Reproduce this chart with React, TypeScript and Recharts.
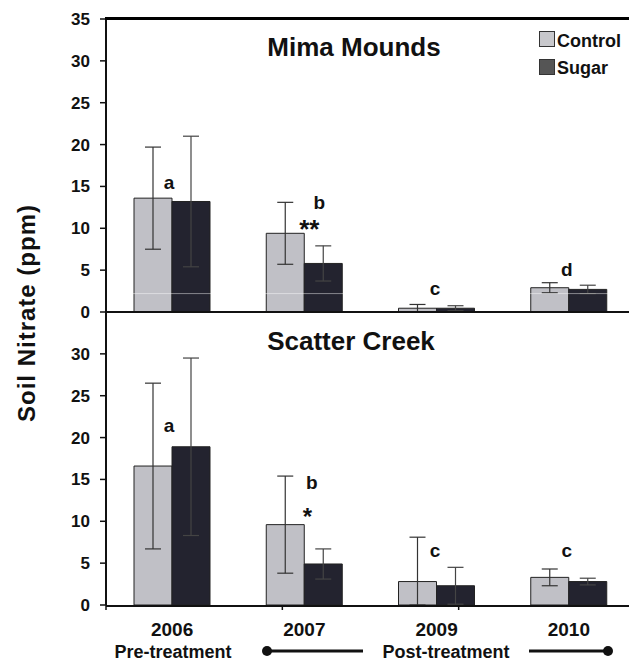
import React from 'react';
import {
  ComposedChart,
  Bar,
  XAxis,
  YAxis,
  ErrorBar,
  ReferenceLine,
  ReferenceDot,
  Legend,
} from 'recharts';

// ---------- data ----------
const years = ['2006', '2007', '2009', '2010'];

const mimaControl = [13.6, 9.4, 0.45, 2.9];
const mimaControlErr = [6.1, 3.7, 0.45, 0.6];
const mimaSugar = [13.2, 5.8, 0.45, 2.7];
const mimaSugarErr = [7.8, 2.1, 0.3, 0.5];

const scatterControl = [16.6, 9.6, 2.8, 3.3];
const scatterControlErr: (number | [number, number])[] = [9.9, 5.8, [2.8, 5.3], 1.0];
const scatterSugar = [18.9, 4.9, 2.3, 2.8];
const scatterSugarErr = [10.6, 1.8, 2.2, 0.4];

const topTicks = [0, 5, 10, 15, 20, 25, 30, 35];
const bottomTicks = [0, 5, 10, 15, 20, 25, 30];
const boundaryTicks = [0, 1, 2, 3, 4];

const seriesNames = ['Control', 'Sugar'];

const mimaLetters = [
  { year: '2006', y: 14.75, text: 'a' },
  { year: '2007', y: 12.35, text: 'b' },
  { year: '2007', y: 8.8, text: '**' },
  { year: '2009', y: 2.0, text: 'c' },
  { year: '2010', y: 4.27, text: 'd' },
];
const scatterLetters = [
  { year: '2006', y: 20.7, text: 'a' },
  { year: '2007', y: 13.8, text: 'b' },
  { year: '2007', y: 9.55, text: '*' },
  { year: '2009', y: 5.7, text: 'c' },
  { year: '2010', y: 5.7, text: 'c' },
];

// ---------- styles ----------
const FONT = '"Liberation Sans", Arial, Helvetica, sans-serif';
const INK = '#111';
const CONTROL_FILL = '#c0c0c6';
const SUGAR_FILL = '#23232f';
const LEGEND_FILL: Record<string, string> = { Control: '#c8c8cc', Sugar: '#555555' };
const mimaLetterStyle = [
  { dx: -3, fs: 19 },
  { dx: 15, fs: 19 },
  { dx: 5, fs: 26 },
  { dx: -1.5, fs: 19 },
  { dx: -2, fs: 19 },
];
const scatterLetterStyle = [
  { dx: -3, fs: 19 },
  { dx: 7.5, fs: 19 },
  { dx: 3, fs: 24 },
  { dx: -1.5, fs: 19 },
  { dx: -2, fs: 19 },
];

const mimaData = years.map((year, i) => ({
  year,
  control: mimaControl[i],
  controlErr: mimaControlErr[i],
  sugar: mimaSugar[i],
  sugarErr: mimaSugarErr[i],
}));

const scatterData = years.map((year, i) => ({
  year,
  control: scatterControl[i],
  controlErr: scatterControlErr[i],
  sugar: scatterSugar[i],
  sugarErr: scatterSugarErr[i],
}));

const letterShape = (text: string, dx: number, fs: number) => (props: any) => (
  <text
    x={props.cx + dx}
    y={props.cy}
    textAnchor="middle"
    fontSize={fs}
    fontWeight={700}
    fill={INK}
    fontFamily={FONT}
  >
    {text}
  </text>
);

const emptyTick = () => <g />;

const yTick = { fill: INK, fontSize: 17, fontWeight: 700, fontFamily: FONT };

const renderLegend = () => (
  <svg width={90} height={50} style={{ display: 'block' }}>
    {seriesNames.map((name, i) => (
      <g key={name}>
        <rect
          x={0.5}
          y={0.5 + i * 28}
          width={15}
          height={15}
          fill={LEGEND_FILL[name]}
          stroke="#333"
          strokeWidth={1}
        />
        <text
          x={18}
          y={16 + i * 27}
          fontSize={18}
          fontWeight={700}
          fill={INK}
          fontFamily={FONT}
        >
          {name}
        </text>
      </g>
    ))}
  </svg>
);

const bars = () => [
  <Bar
    key="c"
    xAxisId="cat"
    dataKey="control"
    name="Control"
    fill={CONTROL_FILL}
    stroke="#222"
    strokeWidth={1}
    isAnimationActive={false}
  >
    <ErrorBar dataKey="controlErr" width={8} stroke="#333" strokeWidth={1.2} direction="y" />
  </Bar>,
  <Bar
    key="s"
    xAxisId="cat"
    dataKey="sugar"
    name="Sugar"
    fill={SUGAR_FILL}
    stroke="#222"
    strokeWidth={1}
    isAnimationActive={false}
  >
    <ErrorBar dataKey="sugarErr" width={8} stroke="#444" strokeWidth={1.2} direction="y" />
  </Bar>,
];

export default function App() {
  return (
    <div
      style={{
        position: 'absolute',
        left: 0,
        top: 0,
        width: 629,
        height: 661,
        overflow: 'hidden',
        background: '#fff',
      }}
    >
      {/* Bottom panel: Scatter Creek */}
      <div style={{ position: 'absolute', left: 0, top: 300 }}>
        <ComposedChart
          width={640}
          height={361}
          data={scatterData}
          margin={{ top: 12, right: 5, bottom: 54, left: 0 }}
          barGap={0}
          barCategoryGap={28}
        >
          <XAxis
            xAxisId="cat"
            dataKey="year"
            type="category"
            height={1}
            interval={0}
            tickLine={false}
            tickSize={6}
            tickMargin={10.5}
            axisLine={{ stroke: INK, strokeWidth: 2 }}
            tick={{ fill: INK, fontSize: 19, fontWeight: 700, fontFamily: FONT }}
          />
          <XAxis
            xAxisId="bounds"
            type="number"
            domain={[0, 4]}
            ticks={boundaryTicks}
            interval={0}
            allowDataOverflow
            height={1}
            axisLine={false}
            tick={emptyTick}
            tickSize={5}
            tickLine={{ stroke: INK, strokeWidth: 1.5 }}
          />
          <YAxis
            type="number"
            width={106}
            domain={[0, 35]}
            ticks={bottomTicks}
            interval={0}
            tickSize={6}
            tickMargin={10}
            axisLine={{ stroke: INK, strokeWidth: 2 }}
            tickLine={{ stroke: INK, strokeWidth: 1.5 }}
            tick={yTick}
          />
          {bars()}
          {scatterLetters.map((l, i) => (
            <ReferenceDot
              key={'s' + i}
              xAxisId="cat"
              x={l.year}
              y={l.y}
              r={0}
              ifOverflow="visible"
              shape={letterShape(l.text, scatterLetterStyle[i].dx, scatterLetterStyle[i].fs)}
            />
          ))}
        </ComposedChart>
      </div>

      {/* Top panel: Mima Mounds */}
      <div style={{ position: 'absolute', left: 0, top: 0 }}>
        <ComposedChart
          width={640}
          height={330}
          data={mimaData}
          margin={{ top: 19, right: 5, bottom: 17, left: 0 }}
          barGap={0}
          barCategoryGap={28}
        >
          <XAxis
            xAxisId="cat"
            dataKey="year"
            type="category"
            height={1}
            tick={false}
            tickLine={false}
            axisLine={{ stroke: INK, strokeWidth: 2 }}
          />
          <YAxis
            type="number"
            width={106}
            domain={[0, 35]}
            ticks={topTicks}
            interval={0}
            tickSize={6}
            tickMargin={10}
            axisLine={{ stroke: INK, strokeWidth: 2 }}
            tickLine={{ stroke: INK, strokeWidth: 1.5 }}
            tick={yTick}
          />
          {bars()}
          <ReferenceLine
            xAxisId="cat"
            y={2.2}
            stroke="rgba(255,255,255,0.45)"
            strokeWidth={1}
          />
          {mimaLetters.map((l, i) => (
            <ReferenceDot
              key={'m' + i}
              xAxisId="cat"
              x={l.year}
              y={l.y}
              r={0}
              ifOverflow="visible"
              shape={letterShape(l.text, mimaLetterStyle[i].dx, mimaLetterStyle[i].fs)}
            />
          ))}
          <Legend
            layout="vertical"
            align="center"
            verticalAlign="middle"
            content={renderLegend}
            wrapperStyle={{ left: 539, top: 31, width: 90, height: 50 }}
          />
        </ComposedChart>
      </div>

      {/* Frame top edge */}
      <div
        style={{
          position: 'absolute',
          left: 105,
          top: 17,
          width: 524,
          height: 3,
          background: '#000',
          zIndex: 5,
        }}
      />

      {/* Shared text annotations */}
      <svg
        width={629}
        height={661}
        style={{ position: 'absolute', left: 0, top: 0, pointerEvents: 'none' }}
        fontFamily={FONT}
        fontWeight={700}
        fill={INK}
      >
        <text
          transform="translate(35,313) rotate(-90)"
          textAnchor="middle"
          fontSize={24}
          letterSpacing={1}
        >
          Soil Nitrate (ppm)
        </text>
        <text x={354} y={56} textAnchor="middle" fontSize={26}>
          Mima Mounds
        </text>
        <text x={351} y={350} textAnchor="middle" fontSize={26}>
          Scatter Creek
        </text>
        <text x={173} y={658} textAnchor="middle" fontSize={18}>
          Pre-treatment
        </text>
        <text x={446} y={658} textAnchor="middle" fontSize={18}>
          Post-treatment
        </text>
        <line x1={267} y1={651} x2={363} y2={651} stroke={INK} strokeWidth={3} />
        <circle cx={267} cy={651} r={5} fill={INK} />
        <line x1={529} y1={651} x2={608} y2={651} stroke={INK} strokeWidth={3} />
        <circle cx={608} cy={651} r={5} fill={INK} />
      </svg>
    </div>
  );
}
